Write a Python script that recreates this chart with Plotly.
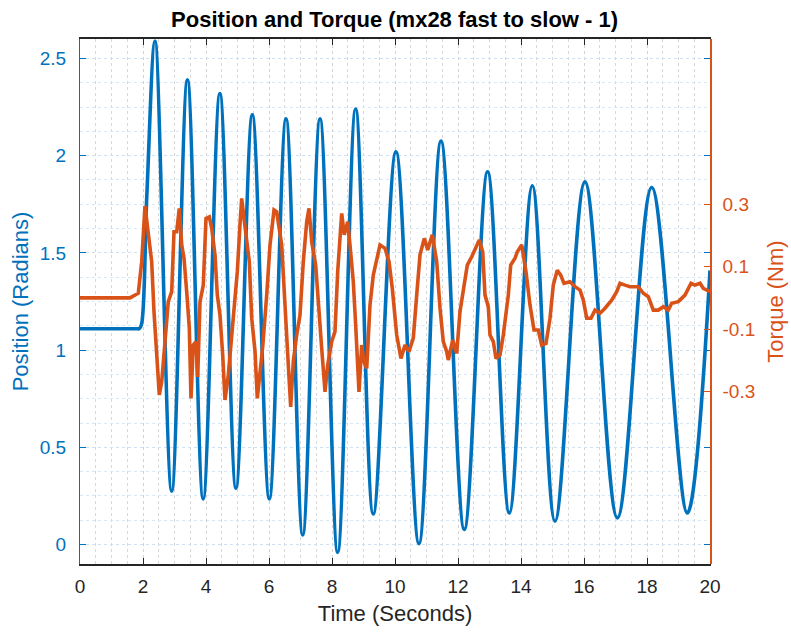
import plotly.graph_objects as go

# Position (radians) - key points (peaks / troughs)
pos_t = [0.0, 0.5, 1.0, 1.5, 1.80, 1.88, 1.95, 2.12, 2.38, 2.91, 3.41, 3.91, 4.44, 4.95, 5.47, 6.01, 6.54, 7.07,
         7.62, 8.18, 8.75, 9.31, 10.03, 10.76, 11.46, 12.20, 12.94, 13.63, 14.36, 15.08,
         16.03, 17.06, 18.15, 19.28, 20.0]
pos_v = [1.11, 1.11, 1.11, 1.11, 1.11, 1.11, 1.13, 1.79, 2.59, 0.275, 2.39, 0.235, 2.32, 0.29, 2.21, 0.235, 2.19, 0.05,
         2.19, -0.04, 2.24, 0.157, 2.02, 0.005, 2.075, 0.078, 1.917, 0.162, 1.845, 0.12,
         1.865, 0.137, 1.836, 0.162, 1.41]

# Torque (Nm)
tq_t = [0.0, 1.587, 1.851, 1.959, 2.063, 2.171, 2.276, 2.349, 2.435, 2.517, 2.594, 2.698,
        2.803, 2.911, 2.984, 3.070, 3.152, 3.229, 3.302, 3.387, 3.470, 3.524, 3.597, 3.683,
        3.737, 3.810, 3.914, 4.000, 4.105, 4.181, 4.286, 4.359, 4.444, 4.530, 4.603, 4.708,
        4.784, 4.921, 4.994, 5.079, 5.133, 5.206, 5.292, 5.375, 5.451, 5.556, 5.629, 5.714,
        5.800, 5.927, 6.032, 6.159, 6.244, 6.403, 6.508, 6.613, 6.689, 6.771, 6.879, 6.984,
        7.089, 7.197, 7.270, 7.356, 7.483, 7.587, 7.673, 7.778, 7.863, 7.990, 8.095, 8.181,
        8.254, 8.308, 8.390, 8.498, 8.571, 8.676, 8.752, 8.857, 8.943, 9.016, 9.102, 9.206,
        9.311, 9.524, 9.683, 9.810, 9.914, 10.054, 10.190, 10.317, 10.444, 10.581, 10.689,
        10.794, 10.930, 11.038, 11.184, 11.324, 11.429, 11.533, 11.641, 11.692, 11.832,
        11.959, 12.063, 12.190, 12.295, 12.435, 12.540, 12.676, 12.784, 12.857, 12.962,
        13.016, 13.121, 13.206, 13.333, 13.438, 13.597, 13.673, 13.810, 13.883, 14.022,
        14.159, 14.286, 14.413, 14.549, 14.657, 14.794, 14.921, 15.025, 15.152, 15.260,
        15.365, 15.556, 15.714, 15.873, 15.978, 16.086, 16.222, 16.349, 16.508, 16.667,
        16.879, 17.038, 17.143, 17.302, 17.460, 17.724, 17.883, 18.041, 18.200, 18.359,
        18.517, 18.676, 18.784, 18.994, 19.206, 19.397, 19.524, 19.683, 19.787, 20.0]
tq_v = [0.0, 0.0, 0.015, 0.116, 0.295, 0.212, 0.116, -0.044, -0.194, -0.311, -0.269, -0.151,
        -0.012, 0.020, 0.212, 0.212, 0.287, 0.170, 0.127, 0.020, -0.097, -0.322, -0.151, -0.140,
        -0.253, -0.012, 0.041, 0.255, 0.260, 0.223, 0.138, 0.009, -0.055, -0.183, -0.327, -0.247,
        -0.162, 0.009, 0.084, 0.234, 0.319, 0.255, 0.180, 0.116, -0.065, -0.171, -0.322, -0.247,
        -0.156, 0.009, 0.170, 0.282, 0.276, 0.170, -0.050, -0.215, -0.349, -0.204, -0.119, -0.055,
        0.116, 0.244, 0.287, 0.180, 0.105, -0.065, -0.162, -0.301, -0.215, -0.140, -0.108, 0.084,
        0.202, 0.271, 0.202, 0.244, 0.170, 0.052, -0.087, -0.301, -0.151, -0.204, -0.226, -0.023,
        0.073, 0.170, 0.159, 0.116, 0.031, -0.119, -0.194, -0.151, -0.172, -0.129, 0.009,
        0.138, 0.191, 0.154, 0.202, 0.116, -0.033, -0.140, -0.172, -0.199, -0.135,
        -0.178, -0.044, 0.031, 0.105, 0.132, 0.154, 0.186, 0.148, 0.009, -0.028,
        -0.119, -0.140, -0.194, -0.183, -0.119, 0.009, 0.105, 0.127, 0.148, 0.170,
        0.084, -0.023, -0.103, -0.103, -0.151, -0.146, -0.065, 0.041, 0.089, 0.073,
        0.047, 0.052, 0.036, 0.025, -0.007, -0.065, -0.065, -0.039, -0.049, -0.033,
        -0.007, 0.020, 0.047, 0.041, 0.036, 0.036, 0.015, 0.004, -0.039, -0.039,
        -0.028, -0.039, -0.017, -0.012, 0.009, 0.047, 0.041, 0.047, 0.031, 0.020]

x_ticks = [0, 2, 4, 6, 8, 10, 12, 14, 16, 18, 20]
pos_ticks = [0, 0.5, 1, 1.5, 2, 2.5]
tq_ticks = [-0.3, -0.1, 0.1, 0.3]
tq_ticktext = ["-0.3", "-0.1", "0.1", "0.3"]

BLUE = "#0072BD"
ORANGE = "#D95319"
DARK = "#262626"
FONT = "Liberation Sans, Arial, sans-serif"

fig = go.Figure()
fig.add_trace(go.Scatter(x=pos_t, y=pos_v, mode="lines", name="Position",
                         line=dict(color=BLUE, width=3.6, shape="spline", smoothing=1.0),
                         yaxis="y"))
fig.add_trace(go.Scatter(x=tq_t, y=tq_v, mode="lines", name="Torque",
                         line=dict(color=ORANGE, width=3.6), yaxis="y2"))

fig.update_layout(
    width=791, height=632,
    margin=dict(l=80, r=81, t=39, b=68),
    paper_bgcolor="white", plot_bgcolor="white",
    showlegend=False,
    font=dict(family=FONT, color=DARK),
    title=dict(text="<b>Position and Torque (mx28 fast to slow - 1)</b>",
               x=395 / 791, xref="paper", xanchor="center",
               yref="container", y=1 - 19.5 / 632, yanchor="middle",
               font=dict(size=22, color="#000000", family=FONT)),
    xaxis=dict(range=[0, 20], tickvals=x_ticks, ticks="inside", ticklen=6, tickwidth=1,
               tickcolor=DARK, showline=True, linecolor=DARK, linewidth=1.5, mirror="ticks",
               showgrid=True, gridcolor="#d2d2d2", griddash="dot", gridwidth=1,
               zeroline=False, automargin=False,
               minor=dict(dtick=0.5, tick0=0, showgrid=True, gridcolor="#d8d8d8",
                          griddash="dot", gridwidth=1),
               tickfont=dict(size=19, color=DARK), ticklabelstandoff=4,
               title=dict(text="Time (Seconds)", font=dict(size=22, color=DARK), standoff=10)),
    yaxis=dict(range=[-0.1, 2.6], tickvals=pos_ticks, ticks="inside", ticklen=6,
               tickcolor=BLUE, showline=True, linecolor=BLUE, linewidth=1, mirror="ticks",
               showgrid=True, gridcolor="#cfe2f3", griddash="dot", gridwidth=1,
               zeroline=False, automargin=False,
               minor=dict(dtick=0.125, tick0=0, showgrid=True, gridcolor="#d8e8f5",
                          griddash="dot", gridwidth=1),
               tickfont=dict(size=19, color=BLUE), ticklabelstandoff=9,
               title=dict(text="Position (Radians)", font=dict(size=22, color=BLUE), standoff=5)),
    yaxis2=dict(range=[-0.853, 0.83], overlaying="y", side="right",
                tickvals=tq_ticks, ticktext=tq_ticktext, ticks="inside", ticklen=6,
                tickcolor=ORANGE, showline=True, linecolor=ORANGE, linewidth=1.5,
                showgrid=False, zeroline=False, automargin=False,
                tickfont=dict(size=19, color=ORANGE), ticklabelstandoff=7,
                title=dict(text="Torque (Nm)", font=dict(size=22, color=ORANGE), standoff=13)),
)

# Remove the default 8px page margin so the 791x632 figure fills the window exactly.
fig.write_html("out.html",
               config={"displayModeBar": False},
               post_script="document.body.style.margin='0';document.body.style.overflow='hidden';")
